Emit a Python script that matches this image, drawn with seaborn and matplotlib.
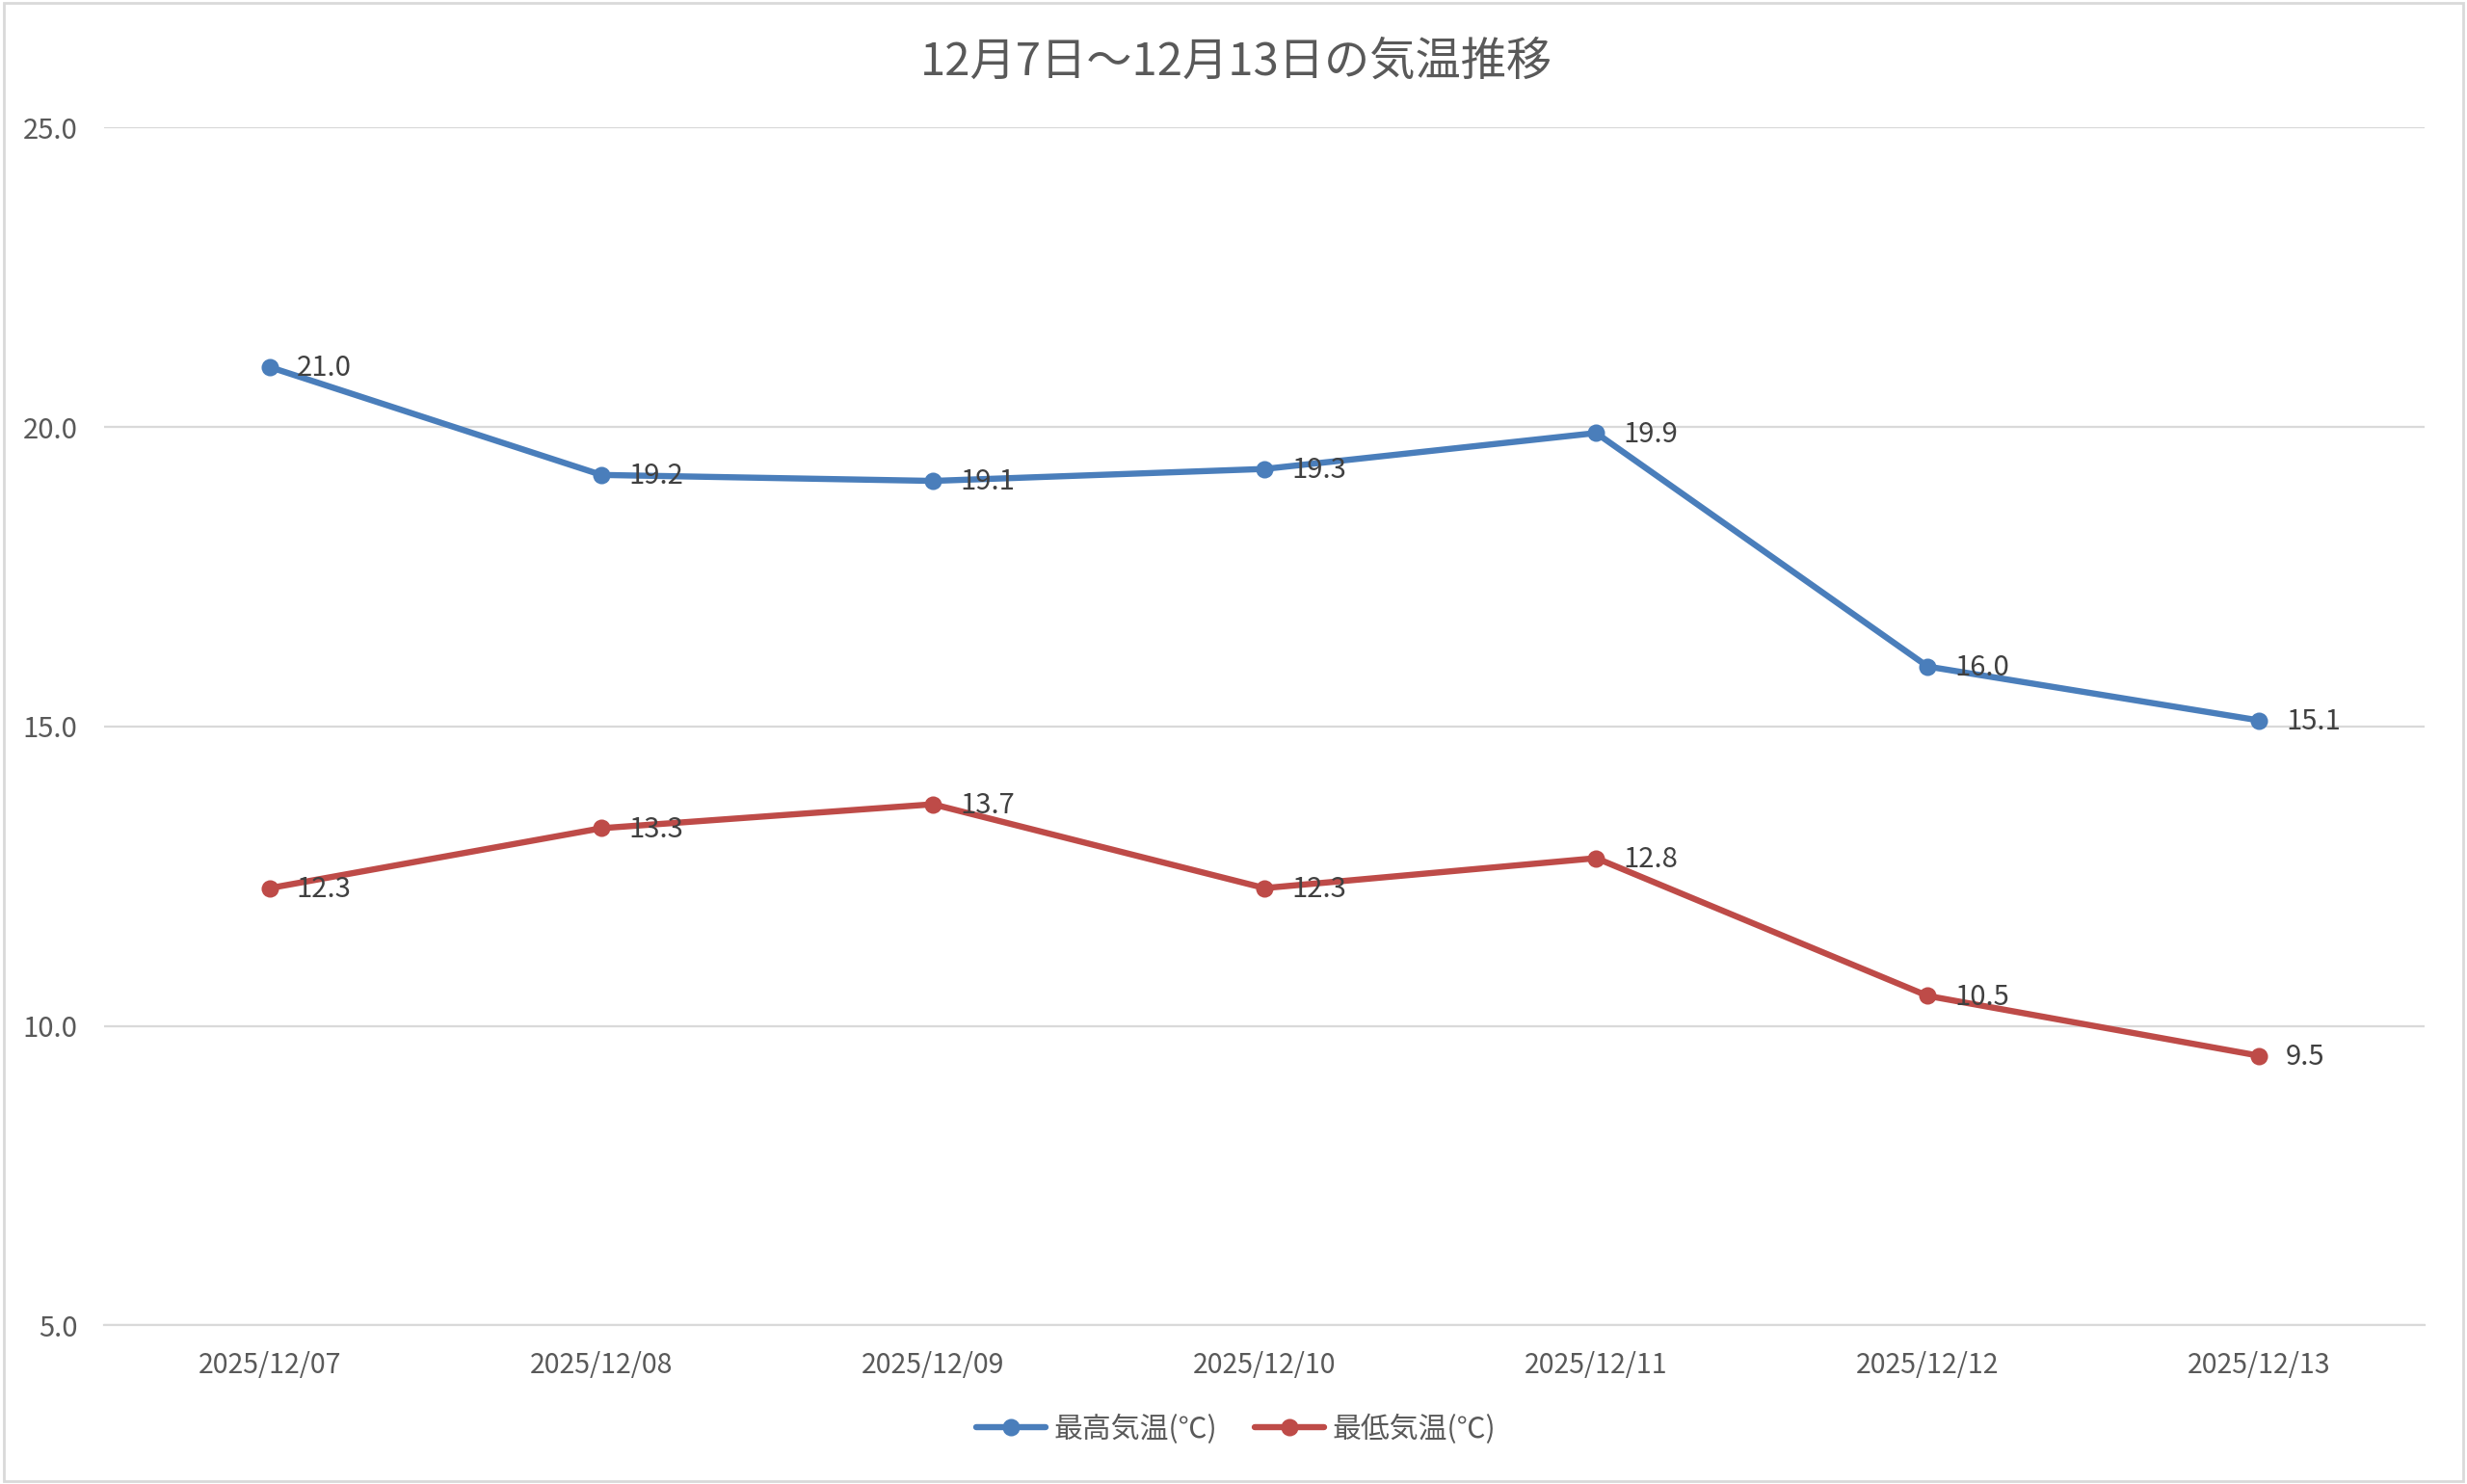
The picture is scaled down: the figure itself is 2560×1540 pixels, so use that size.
import pandas as pd
import numpy as np
import matplotlib
matplotlib.use("Agg")
import matplotlib.pyplot as plt
from matplotlib.patches import Rectangle
import seaborn as sns

# Data
dates = ["2025/12/07", "2025/12/08", "2025/12/09", "2025/12/10",
         "2025/12/11", "2025/12/12", "2025/12/13"]
max_temp = [21.0, 19.2, 19.1, 19.3, 19.9, 16.0, 15.1]
min_temp = [12.3, 13.3, 13.7, 12.3, 12.8, 10.5, 9.5]
series_names = ["最高気温(℃)", "最低気温(℃)"]
y_ticks = [5.0, 10.0, 15.0, 20.0, 25.0]
title = "12月7日～12月13日の気温推移"

colors = ["#4A7EBB", "#BE4B48"]

sns.set_theme(style="white")
plt.rcParams["font.family"] = ["Noto Sans CJK JP", "DejaVu Sans"]

df = pd.DataFrame({
    "date": dates * 2,
    "temp": max_temp + min_temp,
    "series": [series_names[0]] * len(dates) + [series_names[1]] * len(dates),
})

fig = plt.figure(figsize=(25.6, 15.4), dpi=100)
ax = fig.add_axes([0.0422, 0.107, 0.9408, 0.807])

sns.lineplot(data=df, x="date", y="temp", hue="series", palette=colors,
             marker="o", markersize=13, markeredgewidth=0, linewidth=4.6,
             sort=False, ax=ax, legend=True)

# data labels to the right of each point
for vals in [max_temp, min_temp]:
    for i, v in enumerate(vals):
        ax.annotate(f"{v:.1f}", (i, v), xytext=(20, -1), textcoords="offset points",
                    va="center", ha="left", fontsize=21, color="#404040")

ax.set_ylim(5, 25)
ax.set_yticks(y_ticks)
ax.set_yticklabels([f"{t:.1f}" for t in y_ticks])
ax.set_xlim(-0.5, len(dates) - 0.5)
ax.set_xticks(range(len(dates)))
ax.set_xticks(np.arange(-0.5, len(dates), 1.0), minor=True)

ax.grid(axis="y", color="#d9d9d9", linewidth=1.6)
ax.grid(axis="x", visible=False)
ax.set_axisbelow(True)
for s in ["top", "right", "left"]:
    ax.spines[s].set_visible(False)
ax.spines["bottom"].set_color("#d9d9d9")
ax.spines["bottom"].set_linewidth(1.6)

ax.tick_params(axis="y", length=0, pad=20, labelsize=21, labelcolor="#595959")
ax.tick_params(axis="x", which="major", length=0, pad=19, labelsize=20.5, labelcolor="#595959")
ax.tick_params(axis="x", which="minor", length=8, width=1.6, color="#d9d9d9", direction="out")
ax.set_xlabel("")
ax.set_ylabel("")

fig.text(0.501, 0.958, title, ha="center", va="center", fontsize=34, color="#595959")

handles, labels = ax.get_legend_handles_labels()
ax.legend_.remove()
fig.legend(handles, labels, loc="center", bbox_to_anchor=(0.501, 0.037), ncol=2,
           frameon=False, fontsize=21.5, labelcolor="#595959", handlelength=2.4,
           handletextpad=0.3, columnspacing=1.3)

fig.patches.append(Rectangle((0.0015, 0.002), 0.997, 0.996, transform=fig.transFigure,
                             fill=False, edgecolor="#d9d9d9", linewidth=2))

fig.savefig("out.png", dpi=100, facecolor="white")
